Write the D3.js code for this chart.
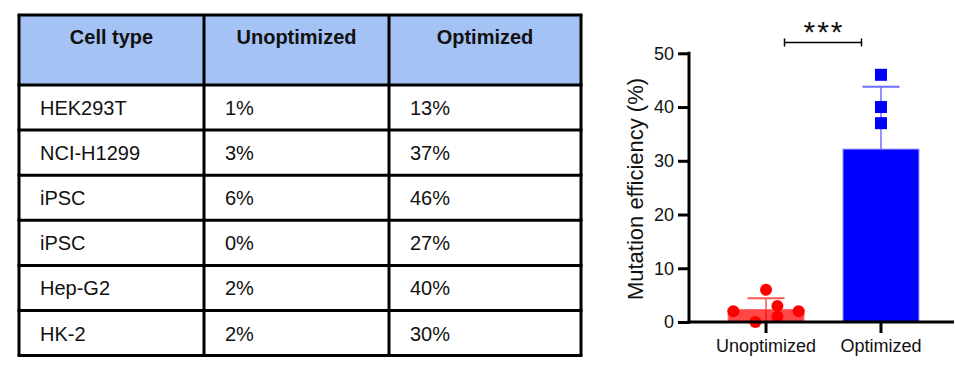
<!DOCTYPE html>
<html>
<head>
<meta charset="utf-8">
<script src="https://cdn.jsdelivr.net/npm/d3@7"></script>
<style>
  body { margin: 0; background: #fff; }
  text { font-family: Arial, "Liberation Sans", sans-serif; }
</style>
</head>
<body>
<div id="chart"></div>
<script>
// table + chart data
const cellTypes = ['HEK293T', 'NCI-H1299', 'iPSC', 'iPSC', 'Hep-G2', 'HK-2'];
const unoptimized = [1, 3, 6, 0, 2, 2];
const optimized = [13, 37, 46, 27, 40, 30];
const headers = ['Cell type', 'Unoptimized', 'Optimized'];
const groups = ['Unoptimized', 'Optimized'];
const yTicks = [0, 10, 20, 30, 40, 50];
const yLabel = 'Mutation efficiency (%)';
const sigLabel = '***';

// scatter offsets (fraction of bar width), layout only
const jitter = {
  Unoptimized: [0.15, 0.15, 0, -0.14, -0.43, 0.43],
  Optimized: [0, 0, 0, 0, 0, 0]
};

const svg = d3.select('#chart').append('svg')
  .attr('width', 955)
  .attr('height', 375);

// ---------- table ----------
const colEdges = [19, 204, 389, 581];
const tableTop = 15, headH = 70, rowH = 45.1;
const rowEdges = [tableTop, tableTop + headH].concat(d3.range(1, cellTypes.length + 1).map(i => tableTop + headH + i * rowH));

const tbl = svg.append('g');
tbl.append('rect')
  .attr('x', colEdges[0]).attr('y', tableTop)
  .attr('width', colEdges[3] - colEdges[0]).attr('height', headH)
  .attr('fill', '#a4c2f4');

const rows = cellTypes.map((c, i) => [c, unoptimized[i] + '%', optimized[i] + '%']);

tbl.selectAll('text.head').data(headers).enter().append('text')
  .attr('class', 'head')
  .attr('x', (d, i) => (colEdges[i] + colEdges[i + 1]) / 2)
  .attr('y', tableTop + 29)
  .attr('text-anchor', 'middle')
  .attr('font-size', 20)
  .attr('font-weight', 'bold')
  .attr('fill', '#111')
  .text(d => d);

rows.forEach((r, ri) => {
  tbl.selectAll('text.r' + ri).data(r).enter().append('text')
    .attr('class', 'r' + ri)
    .attr('x', (d, i) => colEdges[i] + 21)
    .attr('y', rowEdges[ri + 1] + 30)
    .attr('font-size', 20)
    .attr('fill', '#111')
    .text(d => d);
});

// grid lines
tbl.selectAll('line.h').data(rowEdges).enter().append('line')
  .attr('x1', colEdges[0] - 1.5).attr('x2', colEdges[3] + 1.5)
  .attr('y1', d => d).attr('y2', d => d)
  .attr('stroke', '#000').attr('stroke-width', 3);
tbl.selectAll('line.v').data(colEdges).enter().append('line')
  .attr('y1', tableTop).attr('y2', rowEdges[rowEdges.length - 1])
  .attr('x1', d => d).attr('x2', d => d)
  .attr('stroke', '#000').attr('stroke-width', 3);

// ---------- bar chart ----------
const y = d3.scaleLinear().domain([0, 50]).range([322, 53.3]);
const x = d3.scaleBand().domain(groups).range([689, 958]).paddingInner(0.34).paddingOuter(0.34);

const series = { Unoptimized: unoptimized, Optimized: optimized };
const colors = {
  Unoptimized: { fill: '#ff0000', op: 0.72, edge: '#ff7070', err: '#ff5555', pt: '#ff0000' },
  Optimized: { fill: '#0000ff', op: 1, edge: '#8080ff', err: '#6e6eff', pt: '#0000ff' }
};
const stats = groups.map(g => ({
  g: g,
  mean: d3.mean(series[g]),
  sd: d3.deviation(series[g])
}));

const chart = svg.append('g');

// error bars (mean +/- SD, lower clipped at 0), drawn behind the bars
const err = chart.selectAll('g.err').data(stats).enter().append('g');
err.append('line')
  .attr('x1', d => x(d.g) + x.bandwidth() / 2)
  .attr('x2', d => x(d.g) + x.bandwidth() / 2)
  .attr('y1', d => y(Math.max(0, d.mean - d.sd)))
  .attr('y2', d => y(d.mean + d.sd))
  .attr('stroke', d => colors[d.g].err)
  .attr('stroke-width', 1.5);
err.append('line')
  .attr('x1', d => x(d.g) + x.bandwidth() / 2 - 18.5)
  .attr('x2', d => x(d.g) + x.bandwidth() / 2 + 18.5)
  .attr('y1', d => y(d.mean + d.sd))
  .attr('y2', d => y(d.mean + d.sd))
  .attr('stroke', d => colors[d.g].err)
  .attr('stroke-width', 2);

chart.selectAll('rect.bar').data(stats).enter().append('rect')
  .attr('class', 'bar')
  .attr('x', d => x(d.g))
  .attr('width', x.bandwidth())
  .attr('y', d => y(d.mean))
  .attr('height', d => y(0) - y(d.mean))
  .attr('fill', d => colors[d.g].fill)
  .attr('fill-opacity', d => colors[d.g].op)
  .attr('stroke', d => colors[d.g].edge)
  .attr('stroke-width', 1);

// individual points
const pts = groups.flatMap(g => series[g].map((v, i) => ({ g: g, v: v, j: jitter[g][i] })));
chart.selectAll('circle.pt').data(pts.filter(d => d.g === 'Unoptimized')).enter().append('circle')
  .attr('cx', d => x(d.g) + x.bandwidth() / 2 + d.j * x.bandwidth())
  .attr('cy', d => y(d.v))
  .attr('r', 6)
  .attr('fill', d => colors[d.g].pt);
chart.selectAll('rect.pt').data(pts.filter(d => d.g === 'Optimized')).enter().append('rect')
  .attr('x', d => x(d.g) + x.bandwidth() / 2 + d.j * x.bandwidth() - 6)
  .attr('y', d => y(d.v) - 6)
  .attr('width', 12).attr('height', 12)
  .attr('fill', d => colors[d.g].pt);

// axes
const yAxis = chart.append('g')
  .attr('transform', 'translate(689,0)')
  .call(d3.axisLeft(y).tickValues(yTicks).tickSize(11).tickPadding(4));
const xAxis = chart.append('g')
  .attr('transform', 'translate(0,322)')
  .call(d3.axisBottom(x).tickSize(11).tickPadding(6));

[yAxis, xAxis].forEach(a => {
  a.select('.domain').remove();
  a.selectAll('line').attr('stroke', '#000').attr('stroke-width', 3);
  a.selectAll('text').attr('font-size', 18).attr('fill', '#111')
    .attr('font-family', 'Arial, "Liberation Sans", sans-serif');
});
xAxis.selectAll('text').attr('dy', '0.71em');

chart.append('line')
  .attr('x1', 689).attr('x2', 689)
  .attr('y1', y(50) - 1.5).attr('y2', 323.5)
  .attr('stroke', '#000').attr('stroke-width', 3);
chart.append('line')
  .attr('x1', 687.5).attr('x2', 954)
  .attr('y1', 322).attr('y2', 322)
  .attr('stroke', '#000').attr('stroke-width', 3);

chart.append('text')
  .attr('transform', 'translate(643,189) rotate(-90)')
  .attr('text-anchor', 'middle')
  .attr('font-size', 22)
  .attr('fill', '#111')
  .text(yLabel);

// significance bracket
const sx1 = 784.5, sx2 = 861.5, sy = 42.5;
const sig = chart.append('g').attr('stroke', '#000').attr('stroke-width', 1.5);
sig.append('line').attr('x1', sx1).attr('x2', sx2).attr('y1', sy).attr('y2', sy);
sig.append('line').attr('x1', sx1).attr('x2', sx1).attr('y1', sy - 4).attr('y2', sy + 4);
sig.append('line').attr('x1', sx2).attr('x2', sx2).attr('y1', sy - 4).attr('y2', sy + 4);
chart.append('text')
  .attr('x', (sx1 + sx2) / 2 + 1)
  .attr('y', 42)
  .attr('text-anchor', 'middle')
  .attr('font-size', 30)
  .attr('letter-spacing', 2)
  .attr('fill', '#111')
  .text(sigLabel);
</script>
</body>
</html>
